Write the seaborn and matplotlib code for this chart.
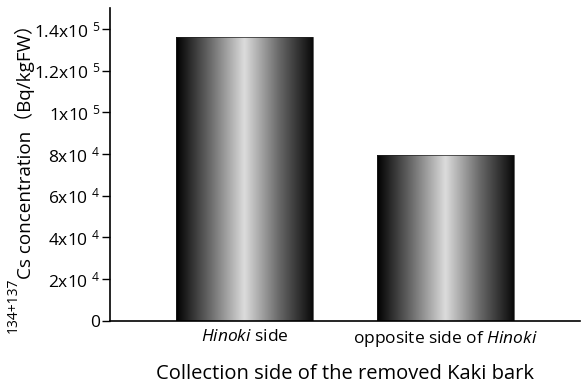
import numpy as np
import pandas as pd
import seaborn as sns
import matplotlib
matplotlib.use("Agg")
import matplotlib.pyplot as plt
from matplotlib.colors import LinearSegmentedColormap

# --- data ---
sides = ["$\\it{Hinoki}$ side", "opposite side of $\\it{Hinoki}$"]
cs_conc = [136000, 79500]
ytick_values = [0, 20000, 40000, 60000, 80000, 100000, 120000, 140000]
ytick_labels = ["0", "2x10 $^{4}$", "4x10 $^{4}$", "6x10 $^{4}$", "8x10 $^{4}$",
                "1x10 $^{5}$", "1.2x10 $^{5}$", "1.4x10 $^{5}$"]

sns.set_style("white")
plt.rcParams['font.family'] = ['Open Sans', 'Noto Sans CJK JP', 'DejaVu Sans']
plt.rcParams['mathtext.fontset'] = 'custom'
plt.rcParams['mathtext.rm'] = 'Open Sans'
plt.rcParams['mathtext.it'] = 'Open Sans:italic'
for k in ['text.color', 'axes.labelcolor', 'xtick.color', 'ytick.color']:
    plt.rcParams[k] = 'black'

df = pd.DataFrame({"side": sides, "conc": cs_conc})

fig = plt.figure(figsize=(5.83, 3.87), dpi=100)
ax = fig.add_axes([0.189, 0.171, 0.806, 0.808])

sns.barplot(data=df, x="side", y="conc", order=sides, width=0.68,
            color="gray", edgecolor="#222222", linewidth=0.5, ax=ax)

# cylinder-like shading: dark edges, light centre
cyl = LinearSegmentedColormap.from_list(
    "cyl", ["#000000", "#6a6a6a", "#dcdcdc", "#6a6a6a", "#0a0a0a"])
grad = np.linspace(0, 1, 256).reshape(1, -1)
for p in ax.patches:
    x0, y0 = p.get_x(), p.get_y()
    w, h = p.get_width(), p.get_height()
    im = ax.imshow(grad, cmap=cyl, aspect="auto", extent=(x0, x0 + w, y0, y0 + h),
                   zorder=p.get_zorder() + 0.1, interpolation="bilinear")
    im.set_clip_path(p)
    p.set_facecolor("none")
    p.set_zorder(p.get_zorder() + 0.2)

ax.set_xlim(-0.67, 1.67)
ax.set_ylim(0, 150000)
ax.set_yticks(ytick_values)
ax.set_yticklabels(ytick_labels, fontsize=12.5)
ax.tick_params(axis="y", direction="out", length=6, width=1, left=True, pad=1)
ax.tick_params(axis="x", length=0, labelsize=12.5, pad=6)

sns.despine(ax=ax)
for s in ["left", "bottom"]:
    ax.spines[s].set_linewidth(1.2)
    ax.spines[s].set_color("black")

ax.set_xlabel("Collection side of the removed Kaki bark", fontsize=14.5, labelpad=11)
ax.set_ylabel("")

# y label: main text plus the isotope superscript, drawn as two texts
ylab_y = 1 - 279 / 387
fig.text(25 / 583, ylab_y, "Cs concentration（Bq/kgFW）", rotation=90,
         ha="center", va="bottom", fontsize=13.6)
fig.text(13 / 583, ylab_y + 0.004, "134+137", rotation=90,
         ha="center", va="top", fontsize=10)

fig.savefig("out.png", dpi=100)
